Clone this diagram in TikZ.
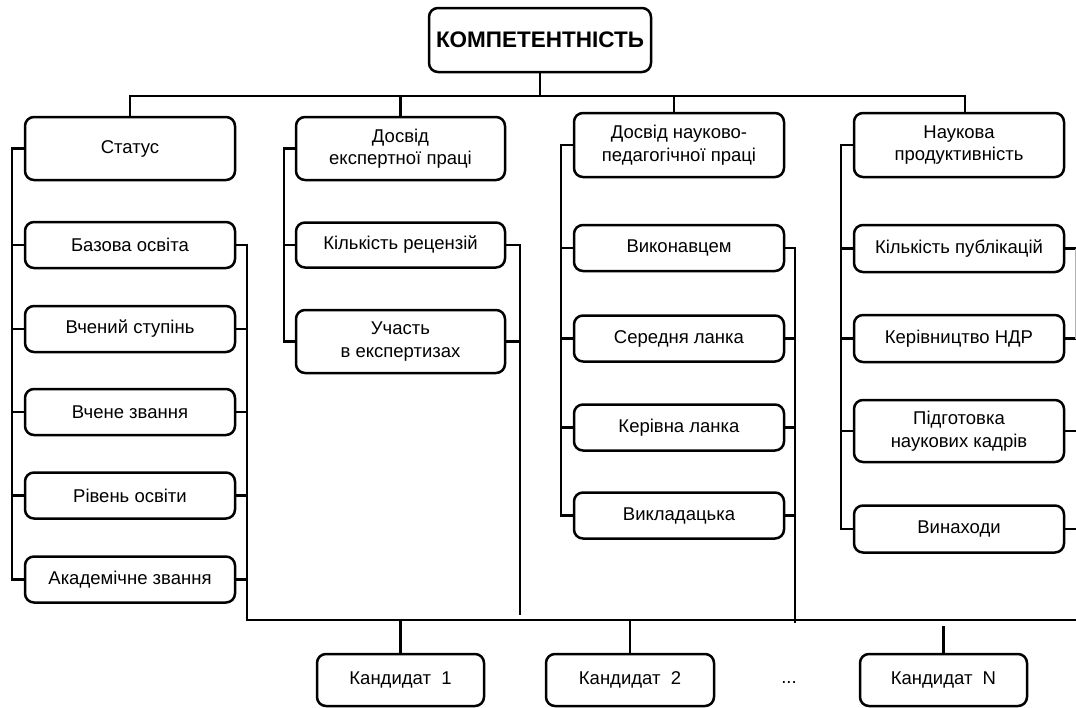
\documentclass[tikz,border=0pt]{standalone}
\usepackage{fontspec}
\setmainfont{Liberation Sans}
\begin{document}
\begin{tikzpicture}[x=1pt,y=-1pt,
  box/.style={draw, rounded corners=9pt, line width=2.5pt, align=center, inner sep=0pt,
    font=\fontsize{18.5}{22.5}\selectfont},
  conn/.style={draw, line width=2.7pt, line join=miter}]
\useasboundingbox (0,0) rectangle (1076,707);
% title
\node[box, minimum width=222pt, minimum height=64pt, font=\fontsize{22.5}{26}\selectfont\bfseries] (ttl) at (540,40) {КОМПЕТЕНТНІСТЬ};
% level 1
\node[box, minimum width=210pt, minimum height=63pt] (st) at (130,148.5) {Статус};
\node[box, minimum width=209pt, minimum height=63pt] (de) at (400.5,148.5) {Досвід\\експертної праці};
\node[box, minimum width=210pt, minimum height=64pt] (dn) at (679,145) {Досвід науково-\\педагогічної праці};
\node[box, minimum width=210pt, minimum height=64pt] (nau) at (959,145) {Наукова\\продуктивність};
% column 1
\node[box, minimum width=210pt, minimum height=46pt] (bo) at (130,245) {Базова освіта};
\node[box, minimum width=210pt, minimum height=46pt] (vs) at (130,329) {Вчений ступінь};
\node[box, minimum width=210pt, minimum height=46pt] (vz) at (130,412) {Вчене звання};
\node[box, minimum width=210pt, minimum height=46pt] (ro) at (130,495.5) {Рівень освіти};
\node[box, minimum width=210pt, minimum height=46pt] (akz) at (130,579.5) {Академічне звання};
% column 2
\node[box, minimum width=209pt, minimum height=45pt] (kr) at (400.5,245) {Кількість рецензій};
\node[box, minimum width=209pt, minimum height=63pt] (uch) at (400.5,341.5) {Участь\\в експертизах};
% column 3
\node[box, minimum width=210pt, minimum height=46pt] (vyk) at (679,248) {Виконавцем};
\node[box, minimum width=210pt, minimum height=46pt] (sl) at (679,338.5) {Середня ланка};
\node[box, minimum width=210pt, minimum height=46pt] (kl) at (679,427.5) {Керівна ланка};
\node[box, minimum width=210pt, minimum height=46pt] (vkl) at (679,515.5) {Викладацька};
% column 4
\node[box, minimum width=210pt, minimum height=47pt] (kp) at (959,248.5) {Кількість публікацій};
\node[box, minimum width=210pt, minimum height=47pt] (kn) at (959,338.5) {Керівництво НДР};
\node[box, minimum width=210pt, minimum height=62pt] (pk) at (959,431) {Підготовка\\наукових кадрів};
\node[box, minimum width=210pt, minimum height=47pt] (vyn) at (959,529) {Винаходи};
% candidates
\node[box, minimum width=167pt, minimum height=52pt] (c1) at (400.5,680) {Кандидат\ \ 1};
\node[box, minimum width=168pt, minimum height=52pt] (c2) at (630,680) {Кандидат\ \ 2};
\node[box, minimum width=167pt, minimum height=52pt] (cn) at (943.5,680) {Кандидат\ \ N};
\node[font=\fontsize{18.5}{22}\selectfont] (dots) at (789,683) {...};
% coordinates
\coordinate (busT) at (0,96);
\coordinate (busB) at (0,620);
\coordinate (E) at (1076,620);
\coordinate (L1) at (12,0);
\coordinate (R1) at (247,0);
\coordinate (L2) at (284,0);
\coordinate (R2b) at (520,615);
\coordinate (L3) at (561,0);
\coordinate (R3b) at (795,623);
\coordinate (L4) at (841,0);
\coordinate (RE) at (1076,0);
% top bus
\draw[conn] (ttl.south) -- (ttl.south |- busT);
\draw[conn] (st.north) |- ([xshift=6pt]nau.north |- busT) -- ([xshift=6pt]nau.north);
\draw[conn] (de.north) -- (de.north |- busT);
\draw[conn] ([xshift=-5pt]dn.north) -- ([xshift=-5pt]dn.north |- busT);
% column 1
\draw[conn] (st.west) -| (L1 |- akz.west) -- (akz.west);
\foreach \n in {bo,vs,vz,ro} \draw[conn] (\n.west) -- (L1 |- \n.west);
\draw[conn] (bo.east) -| (R1 |- busB) -- (E);
\foreach \n in {vs,vz,ro,akz} \draw[conn] (\n.east) -- (R1 |- \n.east);
% column 2
\draw[conn] (de.west) -| (L2 |- uch.west) -- (uch.west);
\draw[conn] (kr.west) -- (L2 |- kr.west);
\draw[conn] (kr.east) -| (R2b);
\draw[conn] (uch.east) -- (R2b |- uch.east);
% column 3
\draw[conn] (dn.west) -| (L3 |- vkl.west) -- (vkl.west);
\foreach \n in {vyk,sl,kl} \draw[conn] (\n.west) -- (L3 |- \n.west);
\draw[conn] (vyk.east) -| (R3b);
\foreach \n in {sl,kl,vkl} \draw[conn] (\n.east) -- (R3b |- \n.east);
% column 4
\draw[conn] (nau.west) -| (L4 |- vyn.west) -- (vyn.west);
\foreach \n in {kp,kn,pk} \draw[conn] (\n.west) -- (L4 |- \n.west);
\foreach \n in {kp,kn,pk,vyn} \draw[conn] (\n.east) -- (RE |- \n.east);
\draw[gray!60, line width=1pt] ([xshift=-1pt]RE |- kp.east) -- ([xshift=-1pt]RE |- kn.east);
% candidates
\draw[conn] (c1.north) -- (c1.north |- busB);
\draw[conn] (c2.north) -- (c2.north |- busB);
\draw[conn] (cn.north) -- ([yshift=-6pt]cn.north |- busB);
\end{tikzpicture}
\end{document}
